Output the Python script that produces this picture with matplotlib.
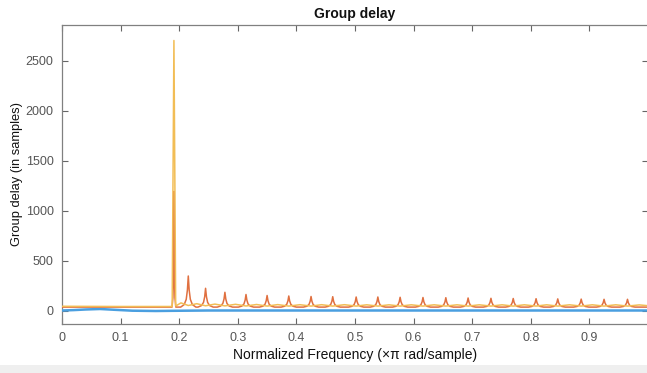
import matplotlib.pyplot as plt
from matplotlib.patches import Rectangle

plt.rcParams['font.family'] = ['Liberation Sans', 'DejaVu Sans']

# orange response: resonance peaks (normalized freq, group delay in samples)
orange_peak_f = [0.191, 0.2155, 0.245, 0.278, 0.314, 0.350, 0.387, 0.425, 0.462, 0.502, 0.539,
                 0.577, 0.616, 0.655, 0.693, 0.732, 0.770, 0.809, 0.846, 0.886, 0.925, 0.965]
orange_peak_h = [1190, 345, 222, 182, 160, 150, 145, 140, 138, 135, 135,
                 132, 130, 128, 125, 122, 120, 118, 116, 114, 112, 112]
orange_base = 34

# yellow response
yellow_f = [0.0, 0.10, 0.188, 0.191, 0.194, 0.203, 0.2155, 0.230, 0.245, 0.261, 0.278, 0.296,
            0.314, 0.332, 0.350, 0.368, 0.387, 0.406, 0.425, 0.443, 0.462, 0.482, 0.502,
            0.520, 0.539, 0.558, 0.577, 0.596, 0.616, 0.635, 0.655, 0.674, 0.693, 0.712,
            0.732, 0.751, 0.770, 0.789, 0.809, 0.827, 0.846, 0.866, 0.886, 0.905, 0.925,
            0.945, 0.965, 0.985, 1.0]
yellow_v = [42, 40, 40, 2700, 45, 76, 50, 68, 47, 64, 46, 62,
            45, 60, 44, 59, 44, 58, 44, 58, 44, 58, 44,
            57, 44, 57, 44, 57, 44, 57, 44, 57, 44, 57,
            44, 57, 44, 57, 44, 57, 44, 57, 44, 57, 44,
            57, 44, 56, 48]

# blue response
blue_f = [0.0, 0.02, 0.04, 0.065, 0.09, 0.12, 0.16, 0.19, 0.25, 1.0]
blue_v = [0, 4, 10, 15, 7, -2, -5, -3, 0, 0]

xticks = [0, 0.1, 0.2, 0.3, 0.4, 0.5, 0.6, 0.7, 0.8, 0.9]
yticks = [0, 500, 1000, 1500, 2000, 2500]

# spike outline: offset from centre and fraction of peak height
SHAPE_D = [0.013, 0.007, 0.0035, 0.0015, 0.0]
SHAPE_K = [0.0, 0.08, 0.25, 0.55, 1.0]


def spike_line(freqs, heights, base, x0=0.0, x1=1.0):
    xs, ys = [x0], [base]
    for i, (f, h) in enumerate(zip(freqs, heights)):
        scale = 0.25 if i == 0 else 1.0
        left = [(f - d * scale, base + k * (h - base)) for d, k in zip(SHAPE_D, SHAPE_K)]
        right = [(f + d * scale, base + k * (h - base)) for d, k in zip(SHAPE_D[::-1], SHAPE_K[::-1])][1:]
        for px, py in left + right:
            xs.append(px)
            ys.append(py)
    xs.append(x1)
    ys.append(base)
    return xs, ys


fig = plt.figure(figsize=(6.47, 3.73), dpi=100)
fig.patches.append(Rectangle((0, 0), 1, 8 / 373, transform=fig.transFigure,
                             facecolor='#efefef', edgecolor='none', zorder=0))
ax = fig.add_axes([62 / 647, 49 / 373, 586 / 647, 299 / 373])

ox, oy = spike_line(orange_peak_f, orange_peak_h, orange_base)
ax.plot(blue_f, blue_v, color='#4a9fe0', lw=1.8, zorder=3)
ax.plot(ox, oy, color='#e07040', lw=1.1, zorder=4)
ax.plot(yellow_f, yellow_v, color='#f2bd55', lw=1.1, zorder=5)

ax.set_xlim(0, 1)
ax.set_ylim(-135, 2855)
ax.set_xticks(xticks)
ax.set_xticklabels([f'{t:g}' for t in xticks])
ax.set_yticks(yticks)
ax.tick_params(direction='in', length=4, width=0.8, color='#666666', labelcolor='#555555',
               labelsize=9, top=True, right=True, pad=6)
for s in ax.spines.values():
    s.set_color('#808080')
    s.set_linewidth(0.9)

ax.set_title('Group delay', fontsize=10, fontweight='bold', color='#111111', pad=5)
ax.set_xlabel('Normalized Frequency (\u00d7\u03c0 rad/sample)', fontsize=10,
              color='#111111', labelpad=3)
ax.set_ylabel('Group delay (in samples)', fontsize=9.3, color='#111111', labelpad=2)

fig.savefig('out.png', dpi=100)
